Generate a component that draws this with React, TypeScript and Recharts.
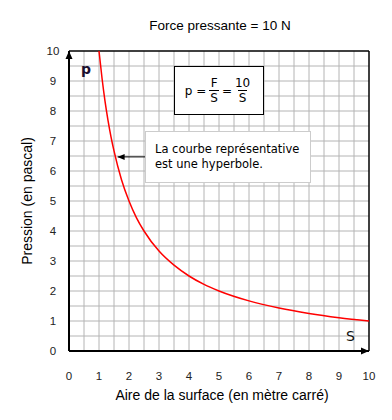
import { LineChart, Line, XAxis, YAxis, ReferenceLine, ReferenceDot } from 'recharts';

// Aire (m²) and pression (Pa)
const surfaces = [1, 1.1, 1.2, 1.3, 1.4, 1.5, 1.75, 2, 2.25, 2.5, 3, 3.5, 4, 4.5, 5, 6, 7, 8, 9, 10];
const pressions = [10, 9.1, 8.33, 7.69, 7.14, 6.67, 5.71, 5, 4.44, 4, 3.33, 2.86, 2.5, 2.22, 2, 1.67, 1.43, 1.25, 1.11, 1];
const axisTicks = [0, 1, 2, 3, 4, 5, 6, 7, 8, 9, 10];
const gridSteps = [0.5, 1, 1.5, 2, 2.5, 3, 3.5, 4, 4.5, 5, 5.5, 6, 6.5, 7, 7.5, 8, 8.5, 9, 9.5];

const data = surfaces.map((s, i) => ({ s, p: pressions[i] }));

const tickFont = { fontFamily: '"Liberation Sans", Arial, sans-serif', fontSize: 11.5, fill: '#222' };
const sans = '"Liberation Sans", Arial, sans-serif';
const verdana = '"DejaVu Sans", Verdana, sans-serif';

const XTick = ({ x, y, payload }: any) => (
  <text x={x} y={y + 21} textAnchor="middle" {...tickFont}>{payload.value}</text>
);
const YTick = ({ x, y, payload }: any) => (
  <text x={x - 8} y={y + 4} textAnchor="middle" {...tickFont}>{payload.value}</text>
);

const upArrow = ({ cx, cy }: any) => (
  <polygon points={`${cx},${cy} ${cx - 3.5},${cy + 8} ${cx + 3.5},${cy + 8}`} fill="#000" />
);
const rightArrow = ({ cx, cy }: any) => (
  <polygon points={`${cx},${cy} ${cx - 8},${cy - 3.5} ${cx - 8},${cy + 3.5}`} fill="#000" />
);
const leftArrow = ({ cx, cy }: any) => (
  <polygon points={`${cx},${cy} ${cx + 7},${cy - 3} ${cx + 7},${cy + 3}`} fill="#000" />
);

const Frac = ({ top, bottom }: { top: string; bottom: string }) => (
  <span style={{ display: 'inline-flex', flexDirection: 'column', alignItems: 'center', margin: '0 3px' }}>
    <span style={{ lineHeight: '14px' }}>{top}</span>
    <span style={{ borderTop: '1px solid #000', lineHeight: '14px', padding: '0 1px' }}>{bottom}</span>
  </span>
);

export default function App() {
  return (
    <div style={{ position: 'absolute', left: 0, top: 0, width: 392, height: 420, background: '#fff' }}>
      <LineChart width={392} height={420} data={data} margin={{ top: 51, right: 23, bottom: 39, left: 39 }}>
        <XAxis
          dataKey="s"
          type="number"
          domain={[0, 10]}
          ticks={axisTicks}
          tick={<XTick />}
          tickLine={false}
          axisLine={{ stroke: '#000', strokeWidth: 2 }}
          height={30}
        />
        <YAxis
          type="number"
          domain={[0, 10]}
          ticks={axisTicks}
          tick={<YTick />}
          tickLine={false}
          axisLine={{ stroke: '#000', strokeWidth: 2 }}
          width={30}
        />
        {gridSteps.map((v) => (
          <ReferenceLine key={'gx' + v} x={v} stroke="#b4b4b4" strokeWidth={1} />
        ))}
        {gridSteps.map((v) => (
          <ReferenceLine key={'gy' + v} y={v} stroke="#b4b4b4" strokeWidth={1} />
        ))}
        <ReferenceLine x={10} stroke="#000" strokeWidth={1.5} />
        <ReferenceLine y={10} stroke="#000" strokeWidth={1.5} />
        <Line
          type="monotone"
          dataKey="p"
          stroke="#ff0000"
          strokeWidth={1.5}
          dot={false}
          isAnimationActive={false}
        />
        <ReferenceLine segment={[{ x: 1.62, y: 6.47 }, { x: 2.55, y: 6.47 }]} stroke="#000" strokeWidth={1} />
        <ReferenceDot x={1.62} y={6.47} r={0} shape={leftArrow} />
        <ReferenceDot x={0} y={10} r={0} shape={upArrow} />
        <ReferenceDot x={10} y={0} r={0} shape={rightArrow} />
      </LineChart>

      <div style={{ position: 'absolute', left: 0, width: 440, top: 18, textAlign: 'center', fontFamily: sans, fontSize: 13.5 }}>
        Force pressante = 10 N
      </div>
      <div style={{ position: 'absolute', left: 0, width: 444, top: 387, textAlign: 'center', fontFamily: sans, fontSize: 14 }}>
        Aire de la surface (en mètre carré)
      </div>
      <div style={{ position: 'absolute', left: 27, top: 201, width: 0, height: 0 }}>
        <div style={{ position: 'absolute', transform: 'translate(-50%, -50%) rotate(-90deg)', whiteSpace: 'nowrap', fontFamily: sans, fontSize: 14 }}>
          Pression (en pascal)
        </div>
      </div>

      <div style={{ position: 'absolute', left: 81, top: 61, fontFamily: verdana, fontSize: 14, fontWeight: 600, color: '#1a1030' }}>p</div>
      <div style={{ position: 'absolute', left: 346, top: 328, fontFamily: verdana, fontSize: 14, color: '#111' }}>S</div>

      <div
        style={{
          position: 'absolute', left: 174, top: 66, width: 88, height: 47, border: '1px solid #000', background: '#fff',
          display: 'flex', alignItems: 'center', justifyContent: 'center', fontFamily: verdana, fontSize: 12,
        }}
      >
        <span>p =</span>
        <Frac top="F" bottom="S" />
        <span>=</span>
        <Frac top="10" bottom="S" />
      </div>

      <div
        style={{
          position: 'absolute', left: 145, top: 131, width: 166, height: 52, border: '1px solid #ccc', background: '#fff',
          fontFamily: verdana, fontSize: 11.5, lineHeight: '15px', padding: '10px 0 0 9px', boxSizing: 'border-box',
        }}
      >
        La courbe représentative
        <br />
        est une hyperbole.
      </div>
    </div>
  );
}
